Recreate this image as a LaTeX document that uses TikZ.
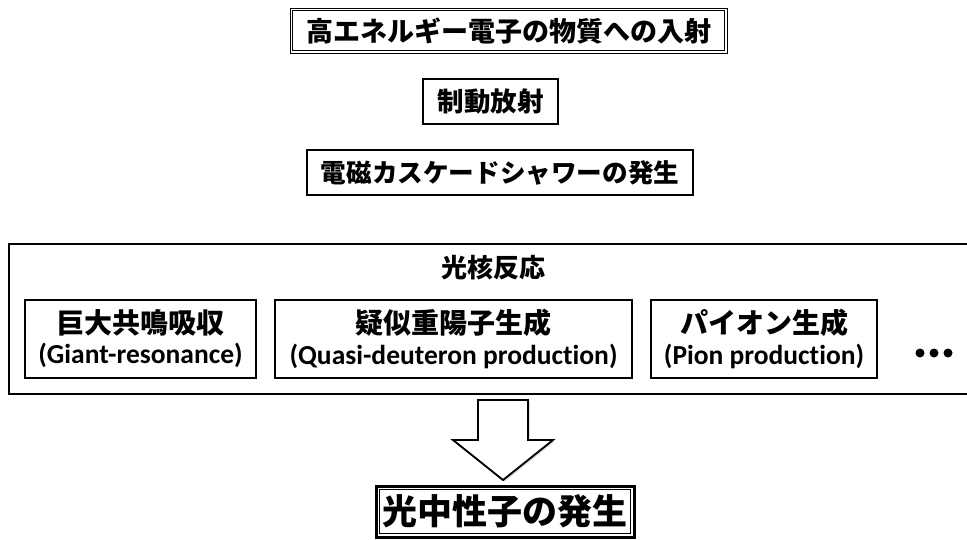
\documentclass[tikz,border=0pt]{standalone}
\usepackage{fontspec}
\newfontfamily\jp{Noto Sans CJK JP}
\newfontfamily\en[RawFeature=-liga]{Carlito}
\usetikzlibrary{shadows}
\tikzset{
  x=1pt,y=-1pt,
  titlebox/.style={draw,line width=1.6pt,minimum height=45pt,inner sep=0pt,font=\jp\bfseries\fontsize{26.5}{30}\selectfont},
  subbox/.style={draw,line width=1.6pt,minimum height=78pt,inner sep=0pt,align=center},
  jpl/.style={font=\jp\bfseries\fontsize{26}{30}\selectfont},
  dot/.style={circle,fill=black,inner sep=0pt,minimum size=9pt}
}
\newcommand{\enl}[1]{{\en\bfseries\fontsize{27.5}{30}\selectfont #1}}
\newcommand{\jpl}[1]{{\jp\bfseries\fontsize{28}{30}\selectfont #1}}
\begin{document}
\begin{tikzpicture}
\useasboundingbox (0,0) rectangle (967,540);
% top box
\node[titlebox,line width=0.7pt,minimum width=437pt,font=\jp\bfseries\fontsize{27}{30}\selectfont] (inc) at (508.5,30.5) {高エネルギー電子の物質への入射};
\draw[line width=0.7pt] ([shift={(3pt,-3pt)}]inc.north west) rectangle ([shift={(-3pt,3pt)}]inc.south east);
% brems
\node[titlebox,minimum width=135pt] (brem) at (490.5,101.5) {制動放射};
% shower
\node[titlebox,minimum width=386pt,font=\jp\bfseries\fontsize{25.6}{30}\selectfont] (shower) at (500,172.5) {電磁カスケードシャワーの発生};
% large box
\node[draw,line width=2pt,minimum width=966pt,minimum height=150pt,inner sep=0pt] (photo) at (492,319) {};
\node[jpl] (phtitle) at (493,268) {光核反応};
\node[subbox,minimum width=231pt] (gr) at (140.5,339) {\jpl{巨大共鳴吸収}\\[6pt]\enl{(Giant-resonance)}};
\node[subbox,minimum width=357pt] (qd) at (453.5,339) {\jpl{疑似重陽子生成}\\[6pt]\enl{(Quasi-deuteron production)}};
\node[subbox,minimum width=226pt] (pi) at (764,339) {\jpl{パイオン生成}\\[6pt]\enl{(Pion production)}};
\node[dot] (d1) at (920,353) {};
\node[dot] (d2) at (934,353) {};
\node[dot] (d3) at (948,353) {};
% big arrow
\draw[line width=1.8pt,fill=white,line join=miter,drop shadow={opacity=0.35,shadow xshift=1.5pt,shadow yshift=-1.5pt}]
  (478,400) -- (528,400) -- (528,440) -- (553,440) -- (503,480) -- (453,440) -- (478,440) -- cycle;
% final box
\node[draw,line width=3pt,fill=white,minimum width=258pt,minimum height=51pt,inner sep=0pt,
      drop shadow={opacity=0.35,shadow xshift=1.5pt,shadow yshift=-1.5pt},
      font=\jp\bfseries\fontsize{35}{40}\selectfont] (fin) at (505,511.5) {光中性子の発生};
\draw[line width=0.8pt] ([shift={(5pt,-5pt)}]fin.north west) rectangle ([shift={(-5pt,5pt)}]fin.south east);
\end{tikzpicture}
\end{document}
